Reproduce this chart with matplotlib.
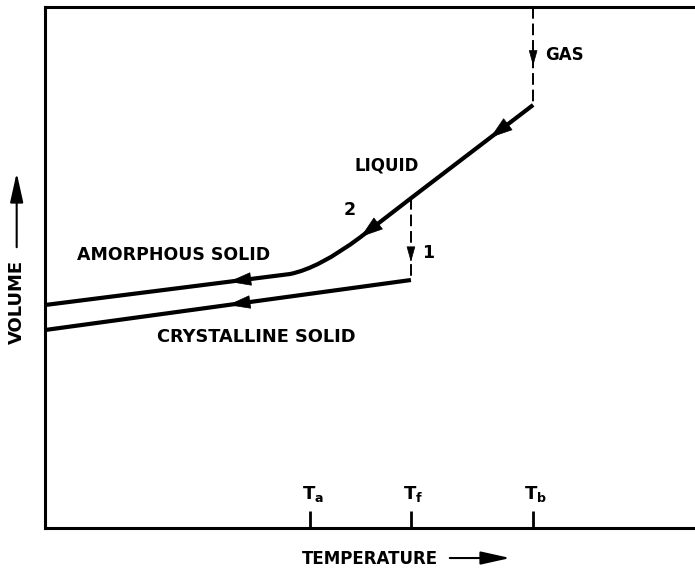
import numpy as np
import matplotlib
matplotlib.use('Agg')
import matplotlib.pyplot as plt
from matplotlib.path import Path
from matplotlib.patches import PathPatch, FancyArrowPatch

plt.rcParams['font.family'] = ['DejaVu Sans']
plt.rcParams['font.weight'] = 'bold'
plt.rcParams['mathtext.fontset'] = 'dejavusans'

# Characteristic temperatures (arbitrary units, 0-100 across the axis)
T_a, T_f, T_b = 40.8, 56.3, 75.1
tick_temps = [T_a, T_f, T_b]
tick_labels = [r'$\mathbf{T_a}$', r'$\mathbf{T_f}$', r'$\mathbf{T_b}$']

# Gas condensing (dashed drop at Tb)
gas_T = [T_b, T_b]
gas_V = [100.0, 81.2]

# Liquid cooling line, down to where it bends into the glass
liquid_T = [T_b, T_f, 48.5]
liquid_V = [81.2, 63.3, 55.8]

# Bend (control point) and amorphous solid line
bend_T = [42.2, 37.7]
bend_V = [49.9, 48.75]
amorph_T = [37.7, 0.0]
amorph_V = [48.75, 42.8]

# Crystallisation drop at Tf and crystalline solid line
freeze_T = [T_f, T_f]
freeze_V = [63.3, 47.6]
cryst_T = [T_f, 0.0]
cryst_V = [47.6, 38.0]

fig = plt.figure(figsize=(6.95, 5.7), dpi=100)
ax = fig.add_axes([45 / 695, 42 / 570, 650 / 695, 521 / 570])
ax.set_xlim(0, 100)
ax.set_ylim(0, 100)

# liquid -> amorphous path with a smooth bend
verts = [(liquid_T[0], liquid_V[0]), (liquid_T[1], liquid_V[1]), (liquid_T[2], liquid_V[2]),
         (bend_T[0], bend_V[0]), (bend_T[1], bend_V[1]), (amorph_T[1], amorph_V[1])]
codes = [Path.MOVETO, Path.LINETO, Path.LINETO, Path.CURVE3, Path.CURVE3, Path.LINETO]
ax.add_patch(PathPatch(Path(verts, codes), fill=False, lw=3, ec='black',
                       capstyle='butt', joinstyle='round'))

ax.plot(cryst_T, cryst_V, color='black', lw=3, solid_capstyle='butt')
ax.plot(gas_T, gas_V, color='black', lw=1.4, ls=(0, (6, 2.5)))
ax.plot(freeze_T, freeze_V, color='black', lw=1.4, ls=(0, (6, 2.5)))


def head(xs, ys, t, hl, hw):
    # arrowhead at fraction t along segment (xs[0],ys[0]) -> (xs[1],ys[1])
    x0, x1 = xs
    y0, y1 = ys
    tip = (x0 + t * (x1 - x0), y0 + t * (y1 - y0))
    dt = 0.04
    tail = (x0 + (t - dt) * (x1 - x0), y0 + (t - dt) * (y1 - y0))
    ax.annotate('', xy=tip, xytext=tail,
                arrowprops=dict(arrowstyle='-|>,head_length=%s,head_width=%s' % (hl, hw),
                                color='black', lw=0.5, shrinkA=0, shrinkB=0,
                                mutation_scale=10))


head(gas_T, gas_V, 0.6, 1.0, 0.28)
head(liquid_T[:2], liquid_V[:2], 0.35, 1.5, 0.5)
head(liquid_T[1:], liquid_V[1:], 0.99, 1.5, 0.5)
head(amorph_T, amorph_V, 0.25, 1.5, 0.45)
head(cryst_T, cryst_V, 0.50, 1.5, 0.45)
head(freeze_T, freeze_V, 0.78, 1.0, 0.28)

fs = 12.5
ax.text(76.9, 90.8, 'GAS', fontsize=fs - 0.5, fontweight='bold', ha='left', va='center')
ax.text(52.6, 69.5, 'LIQUID', fontsize=fs - 0.5, fontweight='bold', ha='center', va='center')
ax.text(46.8, 61.0, '2', fontsize=fs, fontweight='bold', ha='center', va='center')
ax.text(58.9, 52.8, '1', fontsize=fs, fontweight='bold', ha='center', va='center')
ax.text(19.8, 52.4, 'AMORPHOUS SOLID', fontsize=fs, fontweight='bold', ha='center', va='center')
ax.text(32.5, 36.7, 'CRYSTALLINE SOLID', fontsize=fs + 0.3, fontweight='bold', ha='center', va='center')

ax.set_xticks(tick_temps)
ax.set_yticks([])
ax.tick_params(axis='x', direction='in', length=12, width=2, labelbottom=False)
for t, lab in zip(tick_temps, tick_labels):
    ax.text(t + 0.4, 4.6, lab, fontsize=13, ha='center', va='bottom')

for side in ['left', 'bottom', 'top']:
    ax.spines[side].set_linewidth(2.2)
ax.spines['right'].set_visible(False)

# axis titles with arrows
fig.text(0.533, 0.019, 'TEMPERATURE', fontsize=12, fontweight='bold', ha='center', va='center')
fig.add_artist(FancyArrowPatch((447 / 695, 0.021), (513 / 695, 0.021),
               transform=fig.transFigure, arrowstyle='-|>,head_length=1.8,head_width=0.4',
               mutation_scale=10, color='black', lw=1.5))
fig.text(0.024, 0.47, 'VOLUME', fontsize=13, fontweight='bold', rotation=90, ha='center', va='center')
fig.add_artist(FancyArrowPatch((0.024, (570 - 250) / 570), (0.024, (570 - 170) / 570),
               transform=fig.transFigure, arrowstyle='-|>,head_length=1.8,head_width=0.4',
               mutation_scale=10, color='black', lw=1.5))

plt.savefig('out.png', dpi=100)
